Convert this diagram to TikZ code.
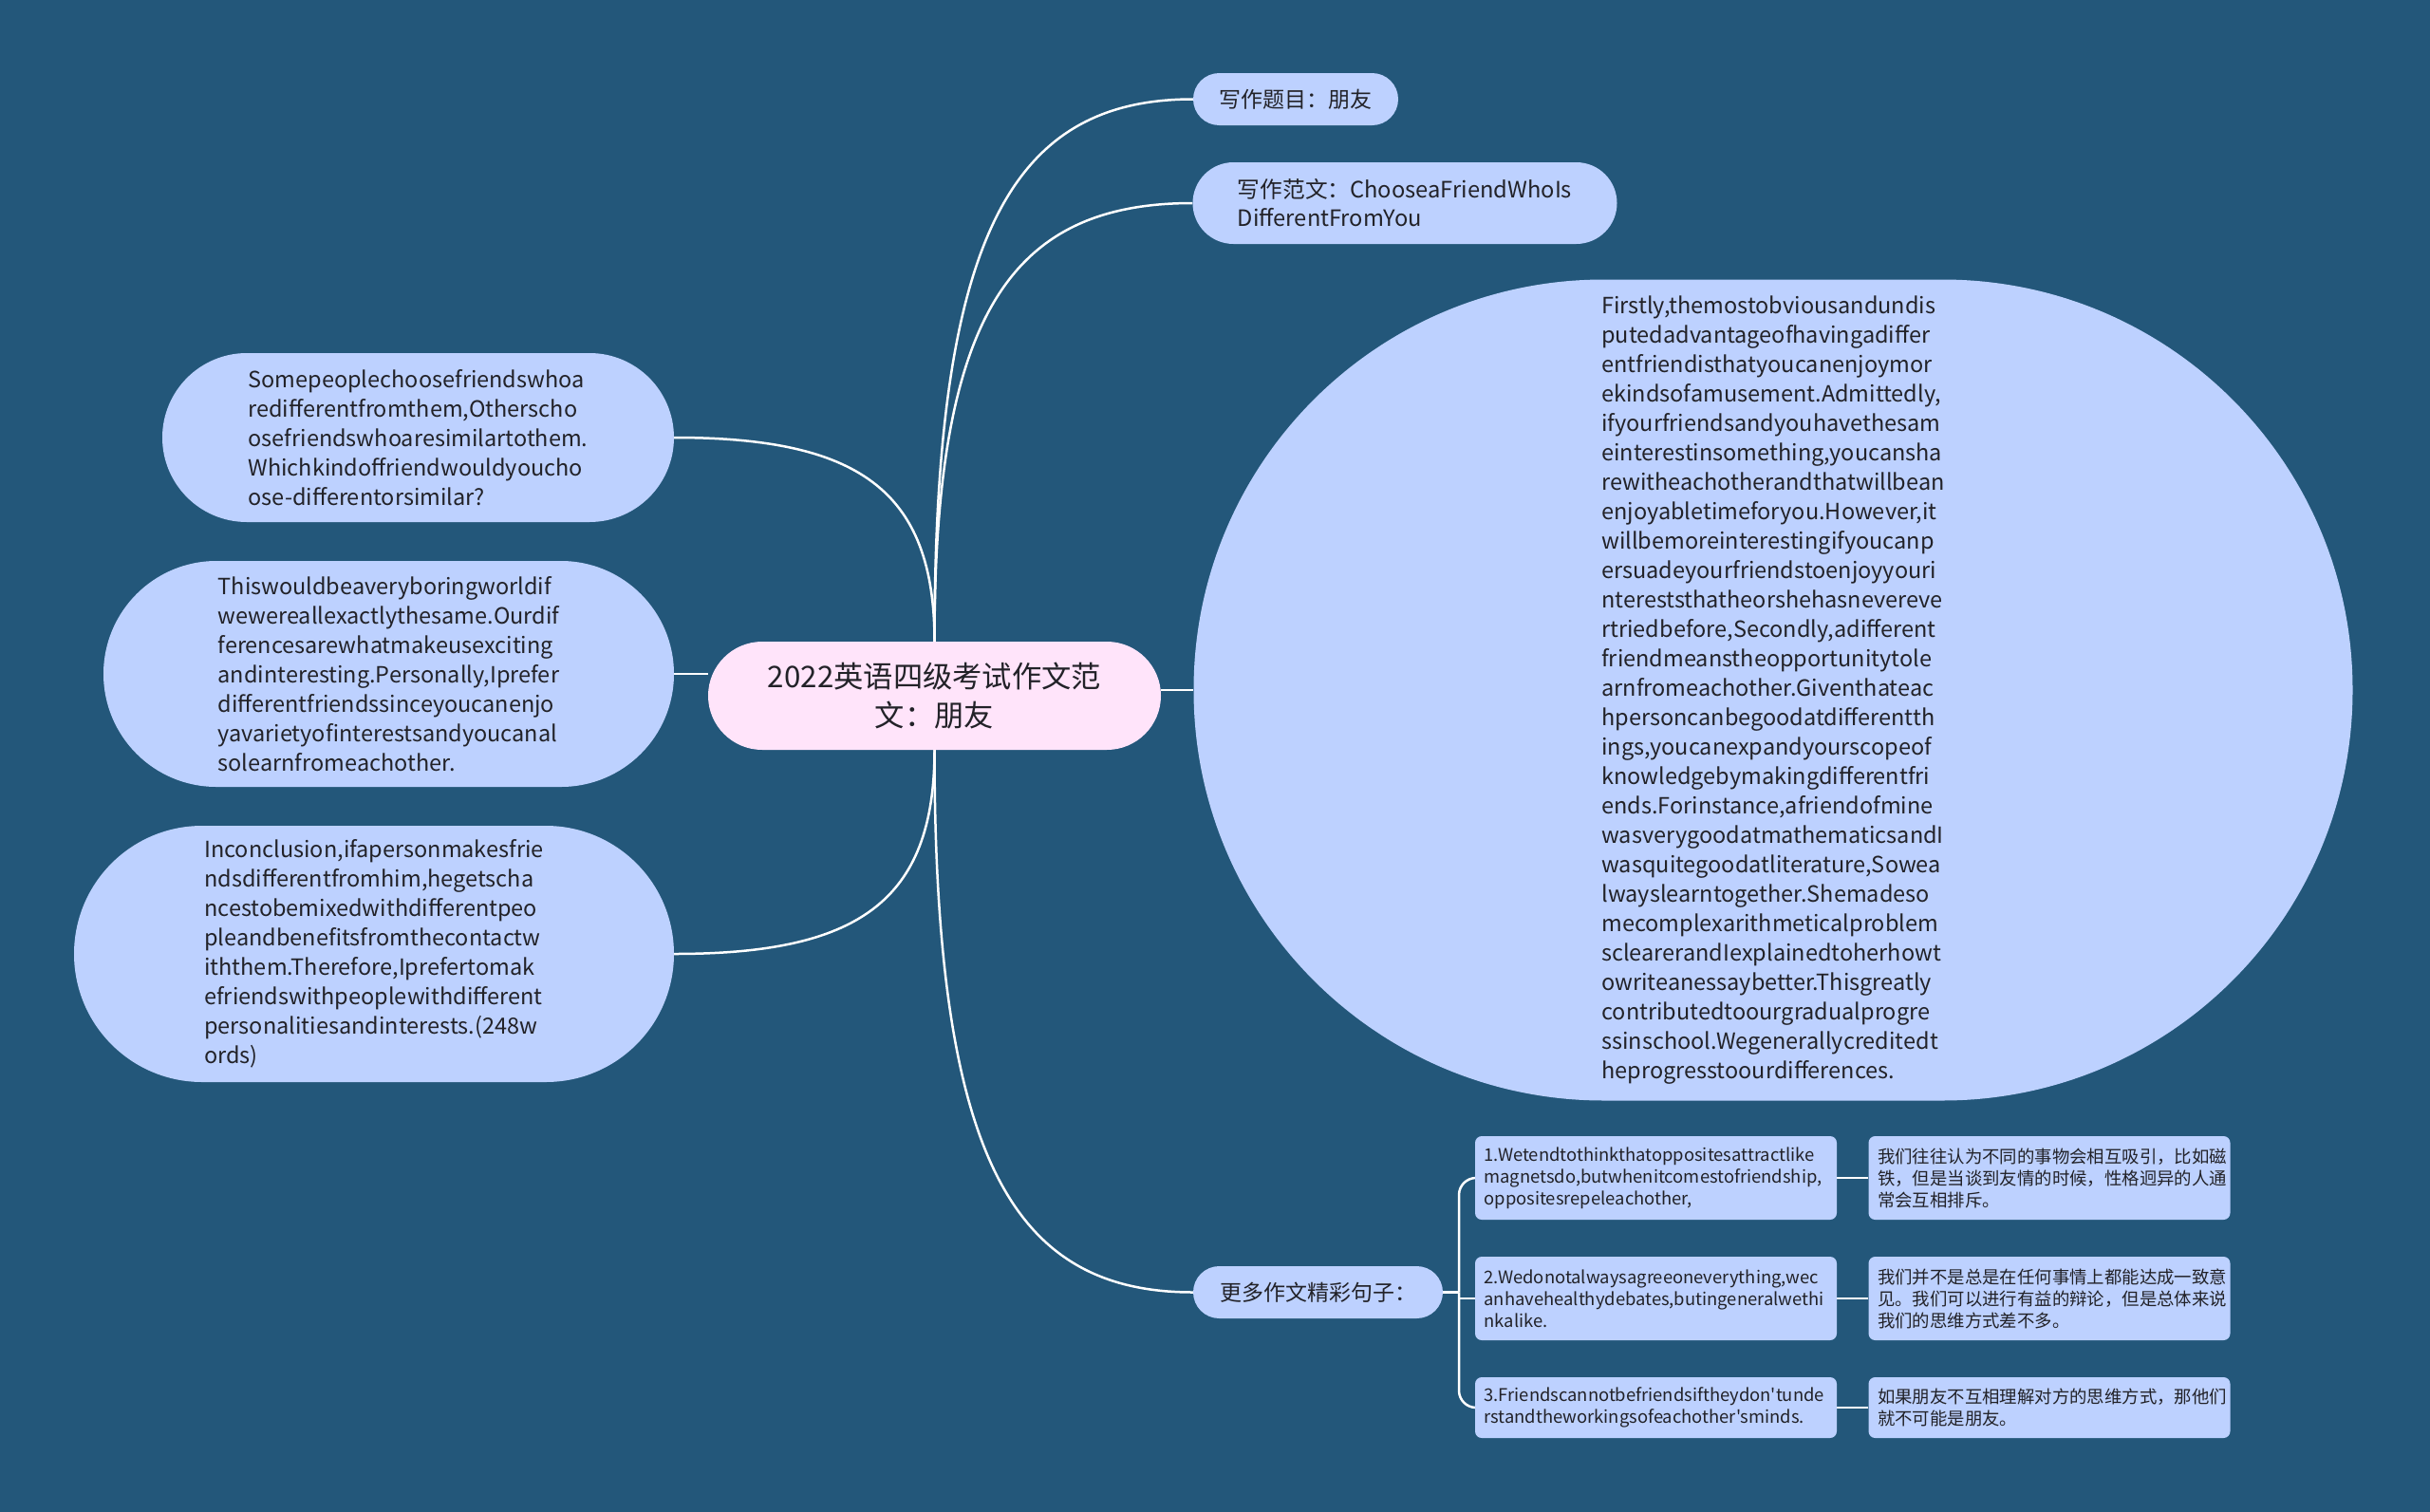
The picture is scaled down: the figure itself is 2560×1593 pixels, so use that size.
\documentclass[tikz,border=0pt]{standalone}
\usepackage{fontspec}
\setmainfont{Noto Sans CJK SC}[Ligatures=TeXOff]
\usetikzlibrary{calc,backgrounds}
\definecolor{bgblue}{RGB}{35,87,122}
\definecolor{nodeblue}{RGB}{189,209,255}
\definecolor{nodepink}{RGB}{255,228,250}
\definecolor{txt}{RGB}{34,34,40}
\newcommand\myfs[2]{\fontsize{#1}{#2}\selectfont}
\tikzset{
  capnode/.style={rectangle, fill=nodeblue, text=txt, inner sep=0pt, align=left},
  bodytext/.style={font=\myfs{23.5}{31}},
  sbox/.style={rectangle, fill=nodeblue, text=txt, inner sep=0pt, align=left,
    rounded corners=7pt, minimum width=381pt, text width=362pt, font=\myfs{18.4}{23}},
  mmlink/.style={draw=white, line width=2.5pt},
}
\begin{document}
\begin{tikzpicture}[x=1pt,y=-1pt]
\useasboundingbox (0,0) rectangle (2560,1593);
% central
\node[capnode, fill=nodepink, align=center, rounded corners=57pt, minimum width=477pt, minimum height=114pt, font=\myfs{31.3}{41}] (c) at (984.5,733) {2022英语四级考试作文范\\文：朋友};
% right branches
\node[capnode, rounded corners=27.5pt, minimum width=216pt, minimum height=55pt, font=\myfs{23}{30}] (r1) at (1365,104.5) {写作题目：朋友};
\node[capnode, rounded corners=43pt, minimum width=447pt, minimum height=86pt, font=\myfs{23.7}{30}] (r2) at (1480,214) {写作范文：ChooseaFriendWhoIs\\DifferentFromYou};
\node[capnode, bodytext, rounded corners=432pt, minimum width=1221pt, minimum height=865pt] (r3) at (1868,727) {Firstly,themostobviousandundis\\
putedadvantageofhavingadiffer\\
entfriendisthatyoucanenjoymor\\
ekindsofamusement.Admittedly,\\
ifyourfriendsandyouhavethesam\\
einterestinsomething,youcansha\\
rewitheachotherandthatwillbean\\
enjoyabletimeforyou.However,it\\
willbemoreinterestingifyoucanp\\
ersuadeyourfriendstoenjoyyouri\\
ntereststhatheorshehasnevereve\\
rtriedbefore,Secondly,adifferent\\
friendmeanstheopportunitytole\\
arnfromeachother.Giventhateac\\
hpersoncanbegoodatdifferentth\\
ings,youcanexpandyourscopeof\\
knowledgebymakingdifferentfri\\
ends.Forinstance,afriendofmine\\
wasverygoodatmathematicsandI\\
wasquitegoodatliterature,Sowea\\
lwayslearntogether.Shemadeso\\
mecomplexarithmeticalproblem\\
sclearerandIexplainedtoherhowt\\
owriteanessaybetter.Thisgreatly\\
contributedtoourgradualprogre\\
ssinschool.Wegenerallycreditedt\\
heprogresstoourdifferences.};
\node[capnode, rounded corners=27.5pt, minimum width=263pt, minimum height=55pt, font=\myfs{23}{30}] (r4) at (1388.5,1361.5) {更多作文精彩句子：};
% left branches
\node[capnode, bodytext, rounded corners=89pt, minimum width=539pt, minimum height=178pt] (l1) at (440.5,461) {Somepeoplechoosefriendswhoa\\
redifferentfromthem,Otherscho\\
osefriendswhoaresimilartothem.\\
Whichkindoffriendwouldyoucho\\
ose-differentorsimilar?};
\node[capnode, bodytext, rounded corners=119pt, minimum width=601pt, minimum height=238pt] (l2) at (409.5,710) {Thiswouldbeaveryboringworldif\\
wewereallexactlythesame.Ourdif\\
ferencesarewhatmakeusexciting\\
andinteresting.Personally,Iprefer\\
differentfriendssinceyoucanenjo\\
yavarietyofinterestsandyoucanal\\
solearnfromeachother.};
\node[capnode, bodytext, rounded corners=135pt, minimum width=632pt, minimum height=270pt] (l3) at (394,1005) {Inconclusion,ifapersonmakesfrie\\
ndsdifferentfromhim,hegetscha\\
ncestobemixedwithdifferentpeo\\
pleandbenefitsfromthecontactw\\
iththem.Therefore,Iprefertomak\\
efriendswithpeoplewithdifferent\\
personalitiesandinterests.(248w\\
ords)};
% sentences
\node[sbox, minimum height=88pt] (s1) at (1744.5,1241) {1.Wetendtothinkthatoppositesattractlike\\magnetsdo,butwhenitcomestofriendship,\\oppositesrepeleachother,};
\node[sbox, minimum height=88pt] (z1) at (2159,1241) {我们往往认为不同的事物会相互吸引，比如磁\\铁，但是当谈到友情的时候，性格迥异的人通\\常会互相排斥。};
\node[sbox, minimum height=88pt] (s2) at (1744.5,1368) {2.Wedonotalwaysagreeoneverything,wec\\anhavehealthydebates,butingeneralwethi\\nkalike.};
\node[sbox, minimum height=88pt] (z2) at (2159,1368) {我们并不是总是在任何事情上都能达成一致意\\见。我们可以进行有益的辩论，但是总体来说\\我们的思维方式差不多。};
\node[sbox, minimum height=64pt] (s3) at (1744.5,1483) {3.Friendscannotbefriendsiftheydon't{}unde\\rstandtheworkingsofeachother'sminds.};
\node[sbox, minimum height=64pt] (z3) at (2159,1483) {如果朋友不互相理解对方的思维方式，那他们\\就不可能是朋友。};
\coordinate (bx) at (1537,1361.5);
\begin{pgfonlayer}{background}
\fill[bgblue] (0,0) rectangle (2560,1593);
% right curves from top
\draw[mmlink] (c.north) .. controls ($(c.north)!0.75!(c.north|-r1.west)$) and ($(c.north|-r1.west)!0.3!(r1.west)$) .. (r1.west);
\draw[mmlink] (c.north) .. controls ($(c.north)!0.75!(c.north|-r2.west)$) and ($(c.north|-r2.west)!0.3!(r2.west)$) .. (r2.west);
\draw[mmlink] (c.east|-r3.west) -- (r3.west);
\draw[mmlink] (c.south) .. controls ($(c.south)!0.75!(c.south|-r4.west)$) and ($(c.south|-r4.west)!0.3!(r4.west)$) .. (r4.west);
% left
\draw[mmlink] (c.north) .. controls ($(c.north)!0.75!(c.north|-l1.east)$) and ($(c.north|-l1.east)!0.3!(l1.east)$) .. (l1.east);
\draw[mmlink] (c.west|-l2.east) -- (l2.east);
\draw[mmlink] (c.south) .. controls ($(c.south)!0.75!(c.south|-l3.east)$) and ($(c.south|-l3.east)!0.3!(l3.east)$) .. (l3.east);
% bracket
\draw[mmlink] (r4.east) -- (bx);
\draw[mmlink, rounded corners=18pt] (bx) |- (s1.west);
\draw[mmlink] (bx) |- (s2.west);
\draw[mmlink, rounded corners=18pt] (bx) |- (s3.west);
\draw[mmlink] (s1.east) -- (z1.west);
\draw[mmlink] (s2.east) -- (z2.west);
\draw[mmlink] (s3.east) -- (z3.west);
\end{pgfonlayer}
\end{tikzpicture}
\end{document}
